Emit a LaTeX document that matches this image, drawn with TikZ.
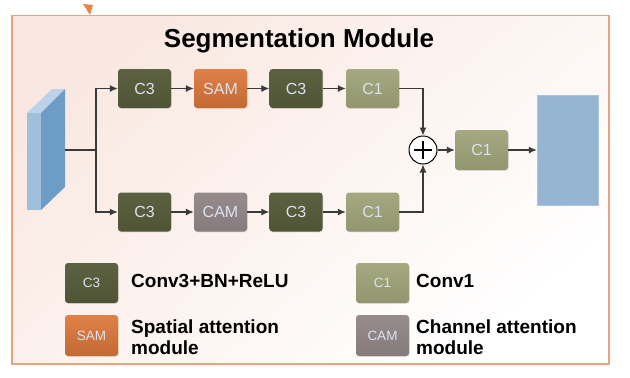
\documentclass[tikz,border=0pt]{standalone}
\usepackage{fontspec}
\setmainfont{Liberation Sans}
\usetikzlibrary{arrows.meta,shadows}
\definecolor{frameC}{HTML}{E9A47C}
\definecolor{bgA}{HTML}{F9E8E1}
\definecolor{tipC}{HTML}{E6854A}
\definecolor{lineC}{HTML}{3A3A3A}
\definecolor{boxtext}{HTML}{DDE3EE}
\definecolor{cthreeTop}{HTML}{5B6141}
\definecolor{cthreeBot}{HTML}{4E5434}
\definecolor{coneTop}{HTML}{A4A982}
\definecolor{coneBot}{HTML}{92966F}
\definecolor{samTop}{HTML}{DF8149}
\definecolor{samBot}{HTML}{C36933}
\definecolor{camTop}{HTML}{968C8E}
\definecolor{camBot}{HTML}{857B7D}
\definecolor{outC}{HTML}{96B5D3}
\definecolor{slabFront}{HTML}{A0BFDB}
\definecolor{slabTop}{HTML}{BCD2E6}
\definecolor{slabSide}{HTML}{6D9CC6}
\begin{document}
\begin{tikzpicture}[x=1pt,y=-1pt,
  blk/.style={rounded corners=3pt, minimum width=53pt, minimum height=39pt,
    inner sep=0pt, font=\fontsize{16}{18}\selectfont, text=boxtext,
    drop shadow={shadow xshift=0.8pt, shadow yshift=-0.8pt, opacity=0.2}},
  cthree/.style={blk, top color=cthreeTop, bottom color=cthreeBot},
  cone/.style={blk, top color=coneTop, bottom color=coneBot},
  sam/.style={blk, top color=samTop, bottom color=samBot},
  cam/.style={blk, top color=camTop, bottom color=camBot},
  key/.style={minimum width=53pt, minimum height=40pt, font=\fontsize{13.5}{15}\selectfont},
  keytext/.style={anchor=west, inner sep=0pt, align=left,
    font=\fontsize{19}{20.5}\selectfont\bfseries},
  wire/.style={draw=lineC, line width=1.1pt},
  conn/.style={wire, -{Latex[length=8pt,width=7pt]}},
]
\useasboundingbox (0,0) rectangle (630,378);

% module frame
\shade[top color=bgA, bottom color=white, shading angle=40] (12,15.5) rectangle (609,364);
\draw[frameC, line width=1.5pt] (12,15.5) rectangle (609,364);
\fill[tipC] (83,4) -- (93,5) -- (90,15) -- cycle;

\node[font=\fontsize{26}{28}\selectfont\bfseries] (title) at (299,41) {Segmentation Module};

% input feature slab
\fill[slabFront] (27,113) -- (41,113) -- (41,210) -- (27,210) -- cycle;
\fill[slabTop] (27,113) -- (41,113) -- (65,89) -- (52,89) -- cycle;
\fill[slabSide] (41,113) -- (65,89) -- (65,187) -- (41,210) -- cycle;
\coordinate (src) at (65,150);
\coordinate (split) at (96,150);

% spatial branch
\node[cthree] (a1) at (144.5,88.5) {C3};
\node[sam]    (a2) at (220.5,88.5) {SAM};
\node[cthree] (a3) at (296,88.5) {C3};
\node[cone]   (a4) at (372.5,88.5) {C1};

% channel branch
\node[cthree] (b1) at (144.5,212) {C3};
\node[cam]    (b2) at (220.5,212) {CAM};
\node[cthree] (b3) at (296,212) {C3};
\node[cone]   (b4) at (372.5,212) {C1};

% fusion and output
\node[circle, draw=black, line width=1pt, fill=white, minimum size=28pt, inner sep=0pt] (sum) at (423,150) {};
\draw[line width=2.4pt] ([xshift=-9pt]sum.center) -- ([xshift=9pt]sum.center);
\draw[line width=2.4pt] ([yshift=-9pt]sum.center) -- ([yshift=9pt]sum.center);
\node[cone, minimum height=40pt] (c1) at (481.5,150) {C1};
\node[fill=outC, draw=outC!80!white, minimum width=61pt, minimum height=110pt, inner sep=0pt] (out) at (567.5,150) {};

% connectors
\draw[wire] (src) -- (split);
\draw[conn] (split) |- (a1.west);
\draw[conn] (split) |- (b1.west);
\draw[conn] (a1) -- (a2);
\draw[conn] (a2) -- (a3);
\draw[conn] (a3) -- (a4);
\draw[conn] (b1) -- (b2);
\draw[conn] (b2) -- (b3);
\draw[conn] (b3) -- (b4);
\draw[conn] (a4.east) -| (sum.north);
\draw[conn] (b4.east) -| (sum.south);
\draw[conn] (sum) -- (c1);
\draw[conn] (c1) -- (out);

% legend
\node[cthree, key] (k1) at (91.5,283) {C3};
\node[keytext] (t1) at (131,281) {Conv3+BN+ReLU};
\node[cone, key] (k2) at (382.5,283) {C1};
\node[keytext] (t2) at (416,281) {Conv1};
\node[sam, key, minimum height=41pt] (k3) at (91.5,335.5) {SAM};
\node[keytext] (t3) at (131,337) {Spatial attention\\module};
\node[cam, key, minimum height=41pt] (k4) at (382.5,335.5) {CAM};
\node[keytext] (t4) at (416,337) {Channel attention\\module};
\end{tikzpicture}
\end{document}
